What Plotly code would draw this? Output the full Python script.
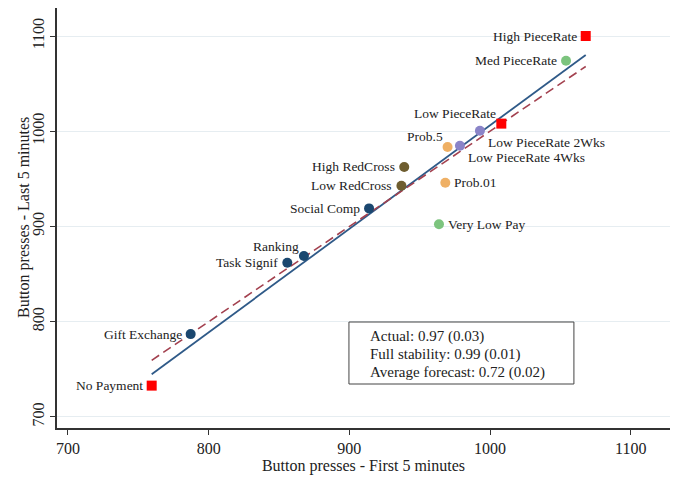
import numpy as np
import plotly.graph_objects as go

# ---------------- data ----------------
labels = ["High PieceRate", "Med PieceRate", "Low PieceRate", "Low PieceRate 2Wks",
          "Low PieceRate 4Wks", "Prob.5", "Prob.01", "High RedCross", "Low RedCross",
          "Social Comp", "Very Low Pay", "Ranking", "Task Signif", "Gift Exchange",
          "No Payment"]
first5 = [1068, 1054, 1008, 992.8, 978.6, 969.8, 968.2, 939, 937, 914, 963.7,
          867.7, 855.9, 787.2, 759.5]
last5 = [1100, 1074, 1008, 1000.6, 984.8, 983.5, 946, 962.5, 942.8, 919, 902.3,
         869, 862, 787, 732.9]
groups = ["benchmark", "green", "benchmark", "purple", "purple", "orange", "orange",
          "olive", "olive", "navy", "green", "navy", "navy", "navy", "benchmark"]
stats_lines = ["Actual: 0.97 (0.03)", "Full stability: 0.99 (0.01)",
               "Average forecast: 0.72 (0.02)"]
x_ticks = [700, 800, 900, 1000, 1100]
y_ticks = [700, 800, 900, 1000, 1100]
x_title = "Button presses - First 5 minutes"
y_title = "Button presses - Last 5 minutes"

# ---------------- style ----------------
FONT = "Liberation Serif"
TXT = "#222222"
group_color = {"benchmark": "#ff0000", "green": "#7cc47e", "purple": "#8a84c8",
               "orange": "#efb065", "olive": "#6e5d2f", "navy": "#1a476f"}
group_symbol = {"benchmark": "square"}
label_pos = {"Low PieceRate": "top left", "Low PieceRate 2Wks": "bottom right",
             "Low PieceRate 4Wks": "bottom right", "Prob.5": "top left",
             "Prob.01": "right", "Very Low Pay": "right", "Ranking": "top left"}
# (xanchor, xshift, yshift) for each label placement
placement = {"left": ("right", -7, 0), "right": ("left", 7, 0),
             "top left": ("right", -3, 10), "bottom right": ("left", 6, -12)}

colors = [group_color[g] for g in groups]
symbols = [group_symbol.get(g, "circle") for g in groups]

fig = go.Figure()

# fitted line (least squares of the data)
xs = np.array(first5, dtype=float)
ys = np.array(last5, dtype=float)
slope, intercept = np.polyfit(xs, ys, 1)
xl = np.array([xs.min(), xs.max()])
fig.add_trace(go.Scatter(x=xl, y=slope * xl + intercept, mode="lines",
                         line=dict(color="#2f5a88", width=1.8), hoverinfo="skip",
                         showlegend=False))
# 45 degree line
fig.add_trace(go.Scatter(x=xl, y=xl, mode="lines",
                         line=dict(color="#a3414f", width=1.6, dash="9px,5px"),
                         hoverinfo="skip", showlegend=False))

fig.add_trace(go.Scatter(
    x=first5, y=last5, mode="markers", text=labels,
    marker=dict(color=colors, symbol=symbols, size=10, line=dict(width=0)),
    showlegend=False, cliponaxis=False))

for lab, xv, yv in zip(labels, first5, last5):
    xa, dx, dy = placement[label_pos.get(lab, "left")]
    fig.add_annotation(x=xv, y=yv, xref="x", yref="y", text=lab, showarrow=False,
                       xanchor=xa, yanchor="middle", xshift=dx, yshift=dy,
                       font=dict(family=FONT, size=13.5, color=TXT))

# stats box
fig.add_shape(type="rect", xref="x", yref="y", x0=899.7, x1=1059.6, y0=734.6, y1=799.7,
              line=dict(color="#444444", width=1), fillcolor="rgba(255,255,255,0)")
line_y = [785.0, 766.1, 747.2]
for txt, yy in zip(stats_lines, line_y):
    fig.add_annotation(x=913.5, y=yy, xref="x", yref="y", text=txt, showarrow=False,
                       xanchor="left", yanchor="middle",
                       font=dict(family=FONT, size=15, color=TXT))

# y axis title
fig.add_annotation(x=0, y=0.5, xref="paper", yref="paper", text=y_title,
                   textangle=-90, showarrow=False, xanchor="center", yanchor="middle",
                   xshift=-33, font=dict(family=FONT, size=16, color=TXT))

# page body adds an 8px offset, so the figure is drawn 8px smaller
fig.update_layout(
    width=671, height=477, margin=dict(l=49, r=9, t=0, b=57),
    paper_bgcolor="white", plot_bgcolor="white",
    font=dict(family=FONT, size=16, color=TXT),
    xaxis=dict(range=[692.2, 1127.9], tickvals=x_ticks, ticks="outside", ticklen=5,
               tickcolor="#333333", showline=True, linecolor="#333333", linewidth=1.5,
               showgrid=False, zeroline=False, automargin=False,
               tickfont=dict(family=FONT, size=16, color=TXT),
               title=dict(text=x_title, standoff=4,
                          font=dict(family=FONT, size=16, color=TXT))),
    yaxis=dict(range=[688.4, 1129.4], tickvals=y_ticks, ticks="outside", ticklen=5,
               tickcolor="#333333", showline=True, linecolor="#333333", linewidth=1.5,
               showgrid=True, gridcolor="#e6edf1", gridwidth=1, zeroline=False,
               tickangle=-90, automargin=False,
               tickfont=dict(family=FONT, size=16, color=TXT)),
)

fig.write_html("out.html")
